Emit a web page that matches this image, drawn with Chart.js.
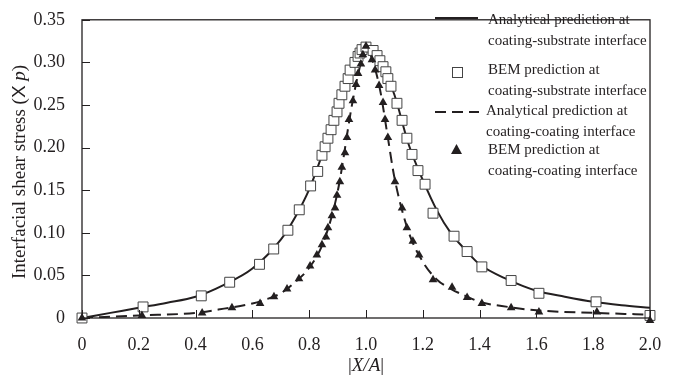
<!DOCTYPE html>
<html>
<head>
<meta charset="utf-8">
<script src="https://cdn.jsdelivr.net/npm/chart.js@4"></script>
<style>
  html, body { margin: 0; padding: 0; background: #fff; }
  #wrap { width: 677px; height: 380px; position: relative; }
</style>
</head>
<body>
<div id="wrap"><canvas id="chartCanvas"></canvas></div>
<script>
// Analytical prediction, coating-substrate interface (solid line)
const solidX = [0, 0.1, 0.2, 0.3, 0.4, 0.5, 0.6, 0.7, 0.75, 0.8, 0.85, 0.9, 0.95, 0.975, 1.0, 1.025, 1.05, 1.1, 1.15, 1.2, 1.25, 1.3, 1.35, 1.4, 1.5, 1.6, 1.7, 1.8, 1.9, 2.0];
const solidY = [0, 0.006, 0.012, 0.018, 0.025, 0.039, 0.058, 0.092, 0.118, 0.151, 0.196, 0.246, 0.294, 0.310, 0.318, 0.313, 0.302, 0.262, 0.204, 0.162, 0.126, 0.099, 0.080, 0.063, 0.045, 0.032, 0.025, 0.019, 0.015, 0.012];

// BEM prediction, coating-substrate interface (open squares)
const squareX = [0, 0.215, 0.42, 0.52, 0.625, 0.675, 0.725, 0.765, 0.805, 0.83, 0.845, 0.856, 0.866, 0.877, 0.887, 0.898, 0.905, 0.915, 0.926, 0.937, 0.944, 0.961, 0.972, 0.979, 0.986, 1.0, 1.025, 1.039, 1.049, 1.06, 1.07, 1.077, 1.088, 1.109, 1.127, 1.144, 1.162, 1.183, 1.208, 1.236, 1.31, 1.356, 1.408, 1.511, 1.609, 1.81, 2.0];
const squareY = [0, 0.013, 0.026, 0.042, 0.063, 0.081, 0.103, 0.127, 0.155, 0.172, 0.191, 0.201, 0.211, 0.221, 0.232, 0.242, 0.252, 0.262, 0.272, 0.281, 0.291, 0.300, 0.307, 0.311, 0.315, 0.318, 0.314, 0.308, 0.302, 0.295, 0.289, 0.281, 0.272, 0.252, 0.232, 0.211, 0.192, 0.173, 0.157, 0.123, 0.096, 0.078, 0.060, 0.044, 0.029, 0.019, 0.003];

// Analytical prediction, coating-coating interface (dashed line)
const dashX = [0, 0.2, 0.4, 0.5, 0.6, 0.65, 0.7, 0.75, 0.8, 0.85, 0.9, 0.95, 0.975, 1.0, 1.025, 1.05, 1.075, 1.1, 1.15, 1.2, 1.25, 1.3, 1.35, 1.4, 1.5, 1.6, 1.8, 2.0];
const dashY = [0, 0.003, 0.006, 0.011, 0.017, 0.022, 0.029, 0.042, 0.059, 0.089, 0.148, 0.249, 0.290, 0.318, 0.300, 0.267, 0.216, 0.165, 0.101, 0.066, 0.045, 0.034, 0.026, 0.019, 0.013, 0.009, 0.006, 0.004];

// BEM prediction, coating-coating interface (filled triangles)
const triX = [0, 0.211, 0.423, 0.528, 0.627, 0.676, 0.722, 0.764, 0.803, 0.827, 0.845, 0.859, 0.866, 0.880, 0.891, 0.898, 0.908, 0.915, 0.926, 0.933, 0.940, 0.954, 0.965, 0.972, 0.982, 0.989, 1.0, 1.021, 1.032, 1.046, 1.060, 1.067, 1.077, 1.102, 1.127, 1.144, 1.165, 1.187, 1.236, 1.303, 1.356, 1.408, 1.511, 1.609, 1.813, 2.0];
const triY = [0, 0.003, 0.006, 0.012, 0.017, 0.025, 0.034, 0.046, 0.061, 0.074, 0.086, 0.095, 0.106, 0.120, 0.129, 0.144, 0.160, 0.177, 0.194, 0.212, 0.233, 0.255, 0.274, 0.287, 0.298, 0.309, 0.319, 0.303, 0.291, 0.273, 0.253, 0.233, 0.212, 0.160, 0.129, 0.106, 0.090, 0.074, 0.045, 0.036, 0.024, 0.017, 0.012, 0.007, 0.007, -0.003];

const xTicks = [0, 0.2, 0.4, 0.6, 0.8, 1.0, 1.2, 1.4, 1.6, 1.8, 2.0];
const yTicks = [0, 0.05, 0.10, 0.15, 0.20, 0.25, 0.30, 0.35];

const legendLabels = [
  ['Analytical prediction at', 'coating-substrate interface'],
  ['BEM prediction at', 'coating-substrate interface'],
  ['Analytical prediction at', 'coating-coating interface'],
  ['BEM prediction at', 'coating-coating interface']
];

const ink = '#231f20';
const serif = '"Liberation Serif", "Times New Roman", serif';

function toPoints(xs, ys) {
  return xs.map((x, i) => ({ x: x, y: ys[i] }));
}

// Frame, inward tick marks, axis titles and the in-plot legend
const decorPlugin = {
  id: 'decor',
  afterDraw(chart) {
    const ctx = chart.ctx;
    const a = chart.chartArea;
    const xs = chart.scales.x;
    const ys = chart.scales.y;
    ctx.save();
    ctx.strokeStyle = ink;
    ctx.lineWidth = 1.3;
    ctx.strokeRect(a.left, a.top, a.right - a.left, a.bottom - a.top);

    // tick marks pointing into the plot
    ctx.lineWidth = 1;
    ctx.beginPath();
    xTicks.forEach(v => {
      const px = Math.round(xs.getPixelForValue(v)) + 0.5;
      ctx.moveTo(px, a.bottom);
      ctx.lineTo(px, a.bottom - 8);
    });
    yTicks.forEach(v => {
      const py = Math.round(ys.getPixelForValue(v)) + 0.5;
      ctx.moveTo(a.left, py);
      ctx.lineTo(a.left + 8, py);
    });
    ctx.stroke();

    // y axis title
    ctx.fillStyle = ink;
    ctx.textBaseline = 'middle';
    ctx.save();
    ctx.translate(20, (a.top + a.bottom) / 2 + 3);
    ctx.rotate(-Math.PI / 2);
    const parts = [
      { t: 'Interfacial shear stress (', f: '19px ' + serif },
      { t: 'X', f: '19px "Liberation Sans", sans-serif' },
      { t: ' ', f: '19px ' + serif },
      { t: 'p', f: 'italic 19px ' + serif },
      { t: ')', f: '19px ' + serif }
    ];
    let total = 0;
    parts.forEach(p => { ctx.font = p.f; total += ctx.measureText(p.t).width; });
    let cx = -total / 2;
    ctx.textAlign = 'left';
    parts.forEach(p => {
      ctx.font = p.f;
      ctx.fillText(p.t, cx, 0);
      cx += ctx.measureText(p.t).width;
    });
    ctx.restore();

    // x axis title |X/A|
    const xParts = [
      { t: '|', f: '19px ' + serif },
      { t: 'X/A', f: 'italic 19px ' + serif },
      { t: '|', f: '19px ' + serif }
    ];
    let xw = 0;
    xParts.forEach(p => { ctx.font = p.f; xw += ctx.measureText(p.t).width; });
    let xx = (a.left + a.right) / 2 - xw / 2;
    ctx.textAlign = 'left';
    xParts.forEach(p => {
      ctx.font = p.f;
      ctx.fillText(p.t, xx, 366);
      xx += ctx.measureText(p.t).width;
    });

    // legend
    const rowY = [20, 70, 111, 150];
    const textX = [488, 488, 486, 488];
    ctx.font = '15px ' + serif;
    legendLabels.forEach((lines, i) => {
      lines.forEach((t, j) => ctx.fillText(t, textX[i], rowY[i] + j * 21));
    });
    // solid sample
    ctx.lineWidth = 2;
    ctx.strokeStyle = ink;
    ctx.beginPath();
    ctx.moveTo(435, 18); ctx.lineTo(478, 18);
    ctx.stroke();
    // square sample
    ctx.lineWidth = 1;
    ctx.fillStyle = '#fff';
    ctx.strokeStyle = '#444';
    ctx.fillRect(452, 67, 10, 10);
    ctx.strokeRect(452.5, 67.5, 10, 10);
    // dashed sample
    ctx.strokeStyle = ink;
    ctx.lineWidth = 2;
    ctx.setLineDash([11, 6]);
    ctx.beginPath();
    ctx.moveTo(435, 112); ctx.lineTo(479, 112);
    ctx.stroke();
    ctx.setLineDash([]);
    // triangle sample
    ctx.fillStyle = ink;
    ctx.beginPath();
    ctx.moveTo(456.5, 144); ctx.lineTo(462, 154); ctx.lineTo(451, 154);
    ctx.closePath();
    ctx.fill();
    ctx.restore();
  }
};

new Chart(document.getElementById('chartCanvas'), {
  type: 'line',
  data: {
    datasets: [
      {
        label: 'Analytical coating-substrate',
        data: toPoints(solidX, solidY),
        borderColor: ink,
        borderWidth: 2,
        pointRadius: 0,
        cubicInterpolationMode: 'monotone',
        order: 3
      },
      {
        label: 'Analytical coating-coating',
        data: toPoints(dashX, dashY),
        borderColor: ink,
        borderWidth: 2,
        borderDash: [11, 6],
        pointRadius: 0,
        cubicInterpolationMode: 'monotone',
        order: 4
      },
      {
        label: 'BEM coating-substrate',
        data: toPoints(squareX, squareY),
        showLine: false,
        pointStyle: 'rect',
        pointRadius: 7,
        pointBackgroundColor: '#fff',
        pointBorderColor: '#444',
        pointBorderWidth: 1,
        clip: false,
        order: 2
      },
      {
        label: 'BEM coating-coating',
        data: toPoints(triX, triY),
        showLine: false,
        pointStyle: 'triangle',
        pointRadius: 5,
        pointBackgroundColor: ink,
        pointBorderColor: ink,
        pointBorderWidth: 0,
        clip: false,
        order: 1
      }
    ]
  },
  options: {
    responsive: true,
    maintainAspectRatio: false,
    animation: false,
    layout: { padding: { top: 12, right: 27, left: 0, bottom: 0 } },
    plugins: {
      legend: { display: false },
      tooltip: { enabled: false }
    },
    scales: {
      x: {
        type: 'linear',
        min: 0,
        max: 2,
        afterBuildTicks: s => { s.ticks = xTicks.map(v => ({ value: v })); },
        afterFit: s => { s.height = 62; },
        grid: { display: false },
        border: { display: false },
        ticks: {
          color: ink,
          padding: 8,
          maxRotation: 0,
          font: { family: serif, size: 18 },
          callback: v => v === 0 ? '0' : v.toFixed(1)
        }
      },
      y: {
        type: 'linear',
        min: 0,
        max: 0.35,
        afterBuildTicks: s => { s.ticks = yTicks.map(v => ({ value: v })); },
        afterFit: s => { s.width = 82; },
        grid: { display: false },
        border: { display: false },
        ticks: {
          color: ink,
          padding: 9,
          font: { family: serif, size: 18 },
          callback: v => v === 0 ? '0' : v.toFixed(2)
        }
      }
    }
  },
  plugins: [decorPlugin]
});
</script>
</body>
</html>
